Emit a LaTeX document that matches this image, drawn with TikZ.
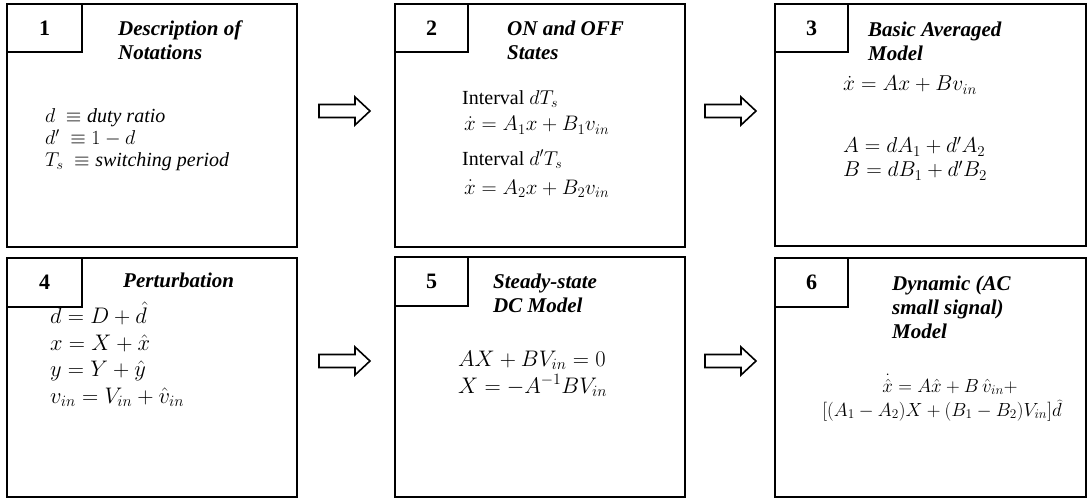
\RequirePackage{fix-cm}
\documentclass[tikz,border=0pt]{standalone}
\usepackage{fontspec}
\setmainfont{Liberation Serif}
\begin{document}
\begin{tikzpicture}[x=1pt,y=-1pt,
  bigbox/.style={draw, line width=2.6pt, inner sep=0pt, outer sep=0pt},
  numbox/.style={draw, line width=2.6pt, inner sep=0pt, outer sep=0pt, font=\fontsize{22}{26}\selectfont\bfseries},
  ttl/.style={anchor=base west, inner sep=0pt, align=left, font=\fontsize{21}{24}\selectfont\bfseries\itshape},
  txt/.style={anchor=base west, inner sep=0pt, font=\fontsize{20}{24}\selectfont},
  mth/.style={anchor=base west, inner sep=0pt, font=\fontsize{#1}{24}\selectfont},
  ctr/.style={anchor=base, inner sep=0pt, font=\fontsize{19}{22}\selectfont},
  blk/.pic={\draw[line width=1.6pt, line join=miter] (0,-6.5) -- (36,-6.5) -- (36,-14) -- (51,0) -- (36,14) -- (36,6.5) -- (0,6.5) -- cycle;}
]
\useasboundingbox[fill=white] (0,0) rectangle (1090,500);

% main boxes
\node[bigbox, minimum width=290pt, minimum height=243pt] (b1) at (152,125.5) {};
\node[bigbox, minimum width=290pt, minimum height=243pt] (b2) at (540,125.5) {};
\node[bigbox, minimum width=311pt, minimum height=242pt] (b3) at (930.5,125) {};
\node[bigbox, minimum width=290pt, minimum height=239pt] (b4) at (152,377.5) {};
\node[bigbox, minimum width=290pt, minimum height=240pt] (b5) at (540,377) {};
\node[bigbox, minimum width=311pt, minimum height=239pt] (b6) at (930.5,377.5) {};

% number boxes
\node[numbox, anchor=north west, minimum width=75pt, minimum height=48pt] (n1) at (b1.north west) {1};
\node[numbox, anchor=north west, minimum width=73pt, minimum height=48pt] (n2) at (b2.north west) {2};
\node[numbox, anchor=north west, minimum width=73pt, minimum height=48pt] (n3) at (b3.north west) {3};
\node[numbox, anchor=north west, minimum width=75pt, minimum height=49pt] (n4) at (b4.north west) {4};
\node[numbox, anchor=north west, minimum width=73pt, minimum height=49pt] (n5) at (b5.north west) {5};
\node[numbox, anchor=north west, minimum width=73pt, minimum height=49pt] (n6) at (b6.north west) {6};

% box 1 (title anchor = baseline of its last line)
\node[ttl] (t1) at (118,60) {Description of\\Notations};
\node[txt] (c1a) at (45,123) {$d\ \equiv \textit{duty ratio}$};
\node[txt] (c1b) at (45,145) {$d'\ \equiv 1-d$};
\node[txt] (c1c) at (45,167) {$T_s\ \equiv \textit{switching period}$};

% box 2
\node[ttl] (t2) at (507,60) {ON and OFF\\States};
\node[txt] (c2a) at (462,105) {Interval $dT_s$};
\node[mth=21] (c2b) at (464,131) {$\dot{x} = A_1x + B_1v_{in}$};
\node[txt] (c2c) at (462,165) {Interval $d'T_s$};
\node[mth=21] (c2d) at (464,194) {$\dot{x} = A_2x + B_2v_{in}$};

% box 3
\node[ttl] (t3) at (868,61) {Basic Averaged\\Model};
\node[mth=21.5] (c3a) at (843,91) {$\dot{x} = Ax + Bv_{in}$};
\node[mth=21.5] (c3b) at (843,153) {$A = dA_1 + d'A_2$};
\node[mth=21.5] (c3c) at (843,177) {$B = dB_1 + d'B_2$};

% box 4
\node[ttl] (t4) at (123,287) {Perturbation};
\node[mth=22.5] (c4a) at (50,323) {$d = D + \hat{d}$};
\node[mth=22.5] (c4b) at (50,350) {$x = X + \hat{x}$};
\node[mth=22.5] (c4c) at (50,376) {$y = Y + \hat{y}$};
\node[mth=22.5] (c4d) at (50,403) {$v_{in} = V_{in} + \hat{v}_{in}$};

% box 5
\node[ttl] (t5) at (493,312) {Steady-state\\DC Model};
\node[mth=22.5] (c5a) at (458,366) {$AX + BV_{in} = 0$};
\node[mth=22.5] (c5b) at (458,393) {$X = -A^{-1}BV_{in}$};

% box 6
\node[ttl] (t6) at (892,338) {Dynamic (AC\\small signal)\\Model};
\node[ctr] (c6a) at (950,392) {$\dot{\hat{x}} = A\hat{x} + B\,\hat{v}_{in} +$};
\node[ctr] (c6b) at (942,416) {$[(A_1 - A_2)X + (B_1 - B_2)V_{in}]\widehat{d}$};

% block arrows
\pic at (319,111) {blk};
\pic at (705,111) {blk};
\pic at (319,361) {blk};
\pic at (705,361) {blk};
\end{tikzpicture}
\end{document}
